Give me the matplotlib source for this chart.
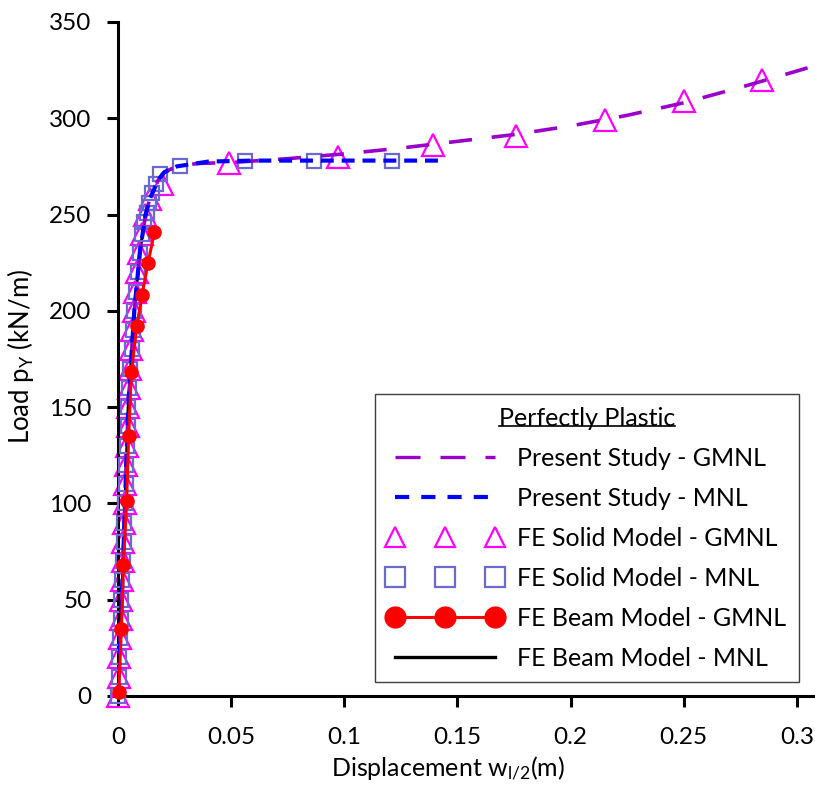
import matplotlib
matplotlib.use("Agg")
import matplotlib.pyplot as plt
from matplotlib.lines import Line2D

plt.rcParams['font.family'] = ['Lato', 'DejaVu Sans']
plt.rcParams['mathtext.fontset'] = 'custom'
plt.rcParams['mathtext.rm'] = 'Lato'
plt.rcParams['mathtext.it'] = 'Lato'

# Present study - GMNL (purple long dash)
ps_gmnl_x = [0, 0.0022, 0.0031, 0.0045, 0.0072, 0.0097, 0.0122, 0.014, 0.0178, 0.0205, 0.026, 0.035,
             0.05, 0.075, 0.1, 0.125, 0.15, 0.175, 0.2, 0.225, 0.25, 0.275, 0.3, 0.31]
ps_gmnl_y = [0, 68, 101, 150, 200, 231, 250, 258, 268, 272, 275, 276.5,
             277, 279, 281.5, 284.5, 288, 291.5, 296, 301.5, 308, 316, 324.5, 328]

# Present study - MNL (blue short dash)
ps_mnl_x = [0, 0.0022, 0.0031, 0.0045, 0.0072, 0.0097, 0.0122, 0.014, 0.0178, 0.0205, 0.026,
            0.04, 0.06, 0.1, 0.142]
ps_mnl_y = [0, 68, 101, 150, 200, 231, 250, 258, 268, 272, 275,
            277.5, 278, 278, 278]

# FE solid model - GMNL (triangles)
solid_gmnl_x = [0, 0.0003, 0.0006, 0.0009, 0.0012, 0.0015, 0.0018, 0.0021, 0.0024, 0.0027,
                0.003, 0.0033, 0.0036, 0.0039, 0.0042, 0.0045, 0.0049, 0.0053, 0.0058, 0.0064,
                0.007, 0.0077, 0.0085, 0.0094, 0.0104, 0.0118, 0.014, 0.0195,
                0.049, 0.097, 0.139, 0.176, 0.215, 0.250, 0.2845]
solid_gmnl_y = [0, 10, 20, 30, 40, 50, 60, 70, 80, 90,
                100, 110, 120, 130, 140, 150, 160, 170, 180, 190,
                200, 210, 220, 230, 240, 250, 258, 266,
                276.7, 279.8, 286, 291, 299, 309, 320]

# FE solid model - MNL (squares)
solid_mnl_x = [0, 0.0003, 0.0006, 0.0009, 0.0012, 0.0015, 0.0019, 0.0022, 0.0025, 0.0028,
               0.0031, 0.0034, 0.0037, 0.004, 0.0043, 0.0046, 0.005, 0.0055, 0.006, 0.0066,
               0.0072, 0.0079, 0.0087, 0.0096, 0.0107, 0.0117, 0.0127, 0.0137, 0.0152, 0.0168,
               0.0186, 0.0274, 0.0562, 0.0867, 0.121]
solid_mnl_y = [0, 10, 20, 30, 40, 50, 60, 70, 80, 90,
               100, 110, 120, 130, 140, 150, 160, 170, 180, 190,
               200, 210, 220, 230, 240, 246, 251, 256, 261, 266,
               271, 275, 278, 278, 278]

# FE beam model - GMNL (red circles)
beam_gmnl_x = [0.0003, 0.0015, 0.0024, 0.0038, 0.0047, 0.0059, 0.0083, 0.0106, 0.0133, 0.0161]
beam_gmnl_y = [2, 35, 68, 101, 135, 168, 192, 208, 225, 241]

# FE beam model - MNL (black line, mostly hidden)
beam_mnl_x = [0, 0.0022, 0.0045, 0.0072, 0.0097, 0.0122]
beam_mnl_y = [0, 68, 150, 200, 231, 250]

legend_labels = ['Present Study - GMNL', 'Present Study - MNL', 'FE Solid Model - GMNL',
                 'FE Solid Model - MNL', 'FE Beam Model - GMNL', 'FE Beam Model - MNL']

purple, blue, magenta, slate, red = '#9900CC', '#0000FF', '#FF00FF', '#6A6AD0', '#FF0000'

fig = plt.figure(figsize=(8.15, 7.89), dpi=100)
ax = fig.add_axes([0.1448, 0.1179, 0.8552, 0.8543])

ax.plot(beam_mnl_x, beam_mnl_y, color='black', lw=2.2, zorder=1)
ax.plot(solid_gmnl_x, solid_gmnl_y, ls='none', marker='^', ms=15.5, mfc='none',
        mec=magenta, mew=1.6, clip_on=False, zorder=2)
ax.plot(solid_mnl_x, solid_mnl_y, ls='none', marker='s', ms=10.5, mfc='none',
        mec=slate, mew=1.6, clip_on=False, zorder=3)
ax.plot(ps_gmnl_x, ps_gmnl_y, color=purple, lw=2.6, dashes=(6.4, 5.5), zorder=4)
ax.plot(ps_mnl_x, ps_mnl_y, color=blue, lw=3.0, dashes=(3.1, 1.9), zorder=5)
ax.plot(beam_gmnl_x, beam_gmnl_y, color=red, lw=2.2, marker='o', ms=9.5,
        clip_on=False, zorder=6)

ax.set_xlim(0, 0.308)
ax.set_ylim(0, 350)
ax.set_xticks([0, 0.05, 0.1, 0.15, 0.2, 0.25, 0.3])
ax.set_xticklabels(['0', '0.05', '0.1', '0.15', '0.2', '0.25', '0.3'])
ax.set_yticks(range(0, 351, 50))

for s in ['top', 'right']:
    ax.spines[s].set_visible(False)
for s in ['left', 'bottom']:
    ax.spines[s].set_linewidth(2.2)
ax.tick_params(axis='both', direction='out', width=2.2, length=8, labelsize=17.5)
ax.tick_params(axis='x', pad=14)
ax.tick_params(axis='y', pad=11)

ax.set_xlabel(r'Displacement w$_{l/2}$(m)', fontsize=18)
ax.set_ylabel(r'Load p$_{Y}$ (kN/m)', fontsize=18.5)
ax.xaxis.set_label_coords(0.473, -0.088)
ax.yaxis.set_label_coords(-0.117, 0.503)

# legend proxies (legend markers are drawn larger than the plotted ones)
proxies = [
    Line2D([], [], color=purple, lw=2.4, dashes=(7.5, 6.0)),
    Line2D([], [], color=blue, lw=3.0, dashes=(3.4, 2.9)),
    Line2D([], [], ls='none', marker='^', ms=14.5, mfc='none', mec=magenta, mew=1.6),
    Line2D([], [], ls='none', marker='s', ms=14.5, mfc='none', mec=slate, mew=1.6),
    Line2D([], [], color=red, lw=2.2, marker='o', ms=15),
    Line2D([], [], color='black', lw=2.4),
]
leg = ax.legend(proxies, legend_labels, loc='lower right',
                bbox_to_anchor=(799 / 815, 1 - 682 / 789), bbox_transform=fig.transFigure,
                borderaxespad=0, title='Perfectly Plastic', title_fontsize=18,
                fontsize=18, numpoints=3, handlelength=4.6, handletextpad=0.6,
                labelspacing=0.68, borderpad=0.5, fancybox=False, framealpha=1,
                edgecolor='#404040')
leg.get_frame().set_linewidth(1.0)

# underline the legend title
fig.canvas.draw()
bb = leg.get_title().get_window_extent().transformed(fig.transFigure.inverted())
uy = bb.y0 + 0.005
fig.add_artist(Line2D([bb.x0, bb.x1], [uy, uy], color='black', lw=1.2, zorder=10))

fig.savefig('out.png', dpi=100)
